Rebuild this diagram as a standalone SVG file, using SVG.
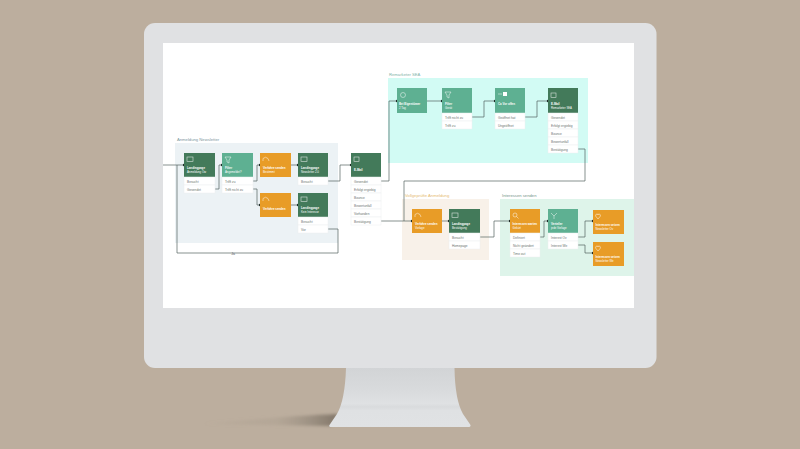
<svg xmlns="http://www.w3.org/2000/svg" width="800" height="449" viewBox="0 0 800 449">
<style>
text{font-family:"Liberation Sans",Arial,sans-serif}
.d{fill:#437a5a}.l{fill:#5eb092}.o{fill:#e89c27}
.t{font-size:2.900px;fill:#fff;font-weight:bold}
.s{font-size:2.800px;fill:#fff}
.r{fill:#fff;stroke:#eceef0;stroke-width:.5}
.q{font-size:3.200px;fill:#6a736f}
.g{font-size:4.200px}
.i{fill:none;stroke:#fff;stroke-width:.6;opacity:.8}
.c{fill:none;stroke:#55635e;stroke-width:.7}
.dot{fill:#1f2b27}
</style>
<defs>
<linearGradient id="neck" x1="0" y1="0" x2="0" y2="1">
<stop offset="0" stop-color="#d2d4d6"/><stop offset=".35" stop-color="#d8dadc"/><stop offset=".6" stop-color="#dfe1e3"/><stop offset=".66" stop-color="#d9dbdd"/><stop offset=".72" stop-color="#dfe1e3"/><stop offset="1" stop-color="#e0e2e4"/>
</linearGradient>
<linearGradient id="sh" x1="0" y1="0" x2="1" y2="0">
<stop offset="0" stop-color="#9a8e80" stop-opacity="0"/><stop offset=".55" stop-color="#a69a8b" stop-opacity=".35"/><stop offset="1" stop-color="#7d7265" stop-opacity=".95"/>
</linearGradient>
<filter id="bl" x="-10%" y="-50%" width="120%" height="200%"><feGaussianBlur stdDeviation="1.600"/></filter>
</defs>
<rect width="800" height="449" fill="#bcae9e"/>
<path d="M200 424L331 426L338 414Q285 416 200 424Z" fill="url(#sh)" filter="url(#bl)"/>
<path d="M346 368H454.500Q455 400 463 414L470.500 425Q471 427 468 427H332Q328 427 329.500 425L337 414Q345 400 346 368Z" fill="url(#neck)"/>
<rect x="144" y="23" width="512.500" height="345" rx="11" fill="#e0e1e3"/>
<rect x="163" y="43" width="471" height="265" fill="#fff"/>

<g id="groups">
<rect x="175" y="143" width="163" height="100" fill="#ecf2f5"/>
<rect x="388" y="78" width="200" height="85" fill="#d2fbf4"/>
<rect x="402" y="199" width="87" height="61" fill="#f8f1e9"/>
<rect x="500" y="199" width="134" height="77" fill="#def4ea"/>
<text x="177" y="140.500" class="g" fill="#7d97a0">Anmeldung Newsletter</text>
<text x="389" y="75.500" class="g" fill="#7fb3a8">Remarketer SEA</text>
<text x="405" y="196.500" class="g" fill="#e6ba70">Vollgeprüfte Anmeldung</text>
<text x="502" y="196.500" class="g" fill="#75958a">Interessen senden</text>
</g>

<g id="connectors">
<path class="c" d="M163 165H184"/>
<path class="c" d="M177 165V253H338V229H328"/>
<path class="c" d="M215 189H219V165H222"/>
<path class="c" d="M253 181H257V165H260"/>
<path class="c" d="M253 189H257V205H260"/>
<path class="c" d="M291 165H298"/>
<path class="c" d="M291 205H298"/>
<path class="c" d="M328 181H340V165H351"/>
<path class="c" d="M381 181H389V101H397"/>
<path class="c" d="M381 221H412"/>
<path class="c" d="M427 101H442"/>
<path class="c" d="M472 117H484V101H495"/>
<path class="c" d="M525 117H537V101H548"/>
<path class="c" d="M578 149H585V181H404V221"/>
<path class="c" d="M442 221H449"/>
<path class="c" d="M480 237H494V221H510"/>
<path class="c" d="M540 237H544V221H548"/>
<path class="c" d="M578 237H585V221H593"/>
<path class="c" d="M578 245H585V253H593"/>
<text x="233" y="254.500" font-size="3.400" text-anchor="middle" fill="#55635e">Ja</text>
<g class="dot">
<circle cx="184" cy="165" r="1.200"/><circle cx="222" cy="165" r="1.200"/><circle cx="260" cy="165" r="1.200"/><circle cx="260" cy="205" r="1.200"/><circle cx="298" cy="165" r="1.200"/><circle cx="298" cy="205" r="1.200"/><circle cx="351" cy="165" r="1.200"/><circle cx="397" cy="101" r="1.200"/><circle cx="442" cy="101" r="1.200"/><circle cx="495" cy="101" r="1.200"/><circle cx="548" cy="101" r="1.200"/><circle cx="412" cy="221" r="1.200"/><circle cx="449" cy="221" r="1.200"/><circle cx="510" cy="221" r="1.200"/><circle cx="548" cy="221" r="1.200"/><circle cx="593" cy="221" r="1.200"/><circle cx="593" cy="253" r="1.200"/>
</g>
</g>

<g id="n1"><rect class="d" x="184" y="153" width="31" height="24"/><rect class="i" x="187" y="157" width="6" height="4.500"/><text class="t" x="187" y="169">Landingpage</text><text class="s" x="187" y="173">Anmeldung Ow</text>
<rect class="r" x="184" y="177" width="31" height="8"/><rect class="r" x="184" y="185" width="31" height="8"/><text class="q" x="187" y="182.500">Besucht</text><text class="q" x="187" y="190.500">Gesendet</text></g>

<g id="n2"><rect class="l" x="222" y="153" width="31" height="24"/><path class="i" d="M225 157H231L229 160V163L227 162V160Z"/><text class="t" x="225" y="169">Filter</text><text class="s" x="225" y="173">Angemeldet?</text>
<rect class="r" x="222" y="177" width="31" height="8"/><rect class="r" x="222" y="185" width="31" height="8"/><text class="q" x="225" y="182.500">Trifft zu</text><text class="q" x="225" y="190.500">Trifft nicht zu</text></g>

<g id="n3"><rect class="o" x="260" y="153" width="31" height="24"/><path class="i" d="M263 161V158.500Q265.500 156 268 158.500L269 161"/><text class="t" x="263" y="169">Verfahre senden</text><text class="s" x="263" y="173">Bestimmt</text></g>

<g id="n4"><rect class="d" x="298" y="153" width="30" height="24"/><rect class="i" x="301" y="157" width="6" height="4.500"/><text class="t" x="301" y="169">Landingpage</text><text class="s" x="301" y="173">Newsletter 2.0</text>
<rect class="r" x="298" y="177" width="30" height="8"/><text class="q" x="301" y="182.500">Besucht</text></g>

<g id="n5"><rect class="o" x="260" y="193" width="31" height="24"/><path class="i" d="M263 201V198.500Q265.500 196 268 198.500L269 201"/><text class="t" x="263" y="209.500">Verfahre senden</text></g>

<g id="n6"><rect class="d" x="298" y="193" width="30" height="24"/><rect class="i" x="301" y="197" width="6" height="4.500"/><text class="t" x="301" y="209">Landingpage</text><text class="s" x="301" y="213">Kein Interesse</text>
<rect class="r" x="298" y="217" width="30" height="8"/><rect class="r" x="298" y="225" width="30" height="8"/><text class="q" x="301" y="222.500">Besucht</text><text class="q" x="301" y="230.500">Vor</text></g>

<g id="n7"><rect class="d" x="351" y="153" width="30" height="24"/><rect class="i" x="354" y="157" width="5" height="4.500"/><text class="t" x="354" y="170.500">E-Mail</text>
<rect class="r" x="351" y="177" width="30" height="8"/><rect class="r" x="351" y="185" width="30" height="8"/><rect class="r" x="351" y="193" width="30" height="8"/><rect class="r" x="351" y="201" width="30" height="8"/><rect class="r" x="351" y="209" width="30" height="8"/><rect class="r" x="351" y="217" width="30" height="8"/>
<text class="q" x="354" y="182.500">Gesendet</text><text class="q" x="354" y="190.500">Erfolgt ergiebig</text><text class="q" x="354" y="198.500">Bounce</text><text class="q" x="354" y="206.500">Bewertunfall</text><text class="q" x="354" y="214.500">Vorhanden</text><text class="q" x="354" y="222.500">Bestätigung</text></g>

<g id="n8"><rect class="l" x="397" y="88" width="30" height="25"/><circle class="i" cx="403" cy="95" r="2.500"/><text class="t" x="399" y="105">Bei Eigentümer</text><text class="s" x="399" y="109">2 Tag</text></g>

<g id="n9"><rect class="l" x="442" y="88" width="30" height="25"/><path class="i" d="M445 92H451L449 95V98L447 97V95Z"/><text class="t" x="445" y="105">Filter</text><text class="s" x="445" y="109">Gerät</text>
<rect class="r" x="442" y="113" width="30" height="8"/><rect class="r" x="442" y="121" width="30" height="8"/><text class="q" x="445" y="118.500">Trifft nicht zu</text><text class="q" x="445" y="126.500">Trifft zu</text></g>

<g id="n10"><rect class="l" x="495" y="88" width="30" height="25"/><path class="i" d="M498 94H502"/><rect x="503" y="92" width="4" height="4" fill="#fff"/><text class="t" x="498" y="105">Ca Vor offen</text>
<rect class="r" x="495" y="113" width="30" height="8"/><rect class="r" x="495" y="121" width="30" height="8"/><text class="q" x="498" y="118.500">Geöffnet hat</text><text class="q" x="498" y="126.500">Ungeöffnet</text></g>

<g id="n11"><rect class="d" x="548" y="88" width="30" height="25"/><rect class="i" x="551" y="93" width="5" height="4.500"/><text class="t" x="551" y="105">E-Mail</text><text class="s" x="551" y="109">Remarketer SEA</text>
<rect class="r" x="548" y="113" width="30" height="8"/><rect class="r" x="548" y="121" width="30" height="8"/><rect class="r" x="548" y="129" width="30" height="8"/><rect class="r" x="548" y="137" width="30" height="8"/><rect class="r" x="548" y="145" width="30" height="8"/>
<text class="q" x="551" y="118.500">Gesendet</text><text class="q" x="551" y="126.500">Erfolgt ergiebig</text><text class="q" x="551" y="134.500">Bounce</text><text class="q" x="551" y="142.500">Bewertunfall</text><text class="q" x="551" y="150.500">Bestätigung</text></g>

<g id="n12"><rect class="o" x="412" y="209" width="30" height="24"/><path class="i" d="M415 217V214.500Q417.500 212 420 214.500L421 217"/><text class="t" x="415" y="225">Verfahre senden</text><text class="s" x="415" y="229">Vorlage</text></g>

<g id="n13"><rect class="d" x="449" y="209" width="31" height="24"/><rect class="i" x="452" y="213" width="6" height="4.500"/><text class="t" x="452" y="225">Landingpage</text><text class="s" x="452" y="229">Bestätigung</text>
<rect class="r" x="449" y="233" width="31" height="8"/><rect class="r" x="449" y="241" width="31" height="8"/><text class="q" x="452" y="238.500">Besucht</text><text class="q" x="452" y="246.500">Homepage</text></g>

<g id="n14"><rect class="o" x="510" y="209" width="30" height="24"/><circle class="i" cx="515" cy="215" r="2"/><path class="i" d="M516.500 216.500L518.500 218.500"/><text class="t" x="512.500" y="225">Interessen warten</text><text class="s" x="512.500" y="229">Gekürt</text>
<rect class="r" x="510" y="233" width="30" height="8"/><rect class="r" x="510" y="241" width="30" height="8"/><rect class="r" x="510" y="249" width="30" height="8"/><text class="q" x="513" y="238.500">Definiert</text><text class="q" x="513" y="246.500">Nicht geändert</text><text class="q" x="513" y="254.500">Time out</text></g>

<g id="n15"><rect class="l" x="548" y="209" width="30" height="24"/><path class="i" d="M551 213L554 216L557 213M554 216V219"/><text class="t" x="551" y="225">Verteiler</text><text class="s" x="551" y="229">jede Vorlage</text>
<rect class="r" x="548" y="233" width="30" height="8"/><rect class="r" x="548" y="241" width="30" height="8"/><text class="q" x="551" y="238.500">Interest Ov</text><text class="q" x="551" y="246.500">Interest We</text></g>

<g id="n16"><rect class="o" x="593" y="210" width="31" height="24"/><path class="i" d="M598 219L595.500 216Q595.500 214 597 214Q598 214 598 215Q598 214 599 214Q600.500 214 600.500 216Z"/><text class="t" x="595.500" y="226">Interessen setzen</text><text class="s" x="595.500" y="230">Newsletter Ov</text></g>

<g id="n17"><rect class="o" x="593" y="242" width="31" height="24"/><path class="i" d="M598 251L595.500 248Q595.500 246 597 246Q598 246 598 247Q598 246 599 246Q600.500 246 600.500 248Z"/><text class="t" x="595.500" y="258">Interessen setzen</text><text class="s" x="595.500" y="262">Newsletter We</text></g>
</svg>
